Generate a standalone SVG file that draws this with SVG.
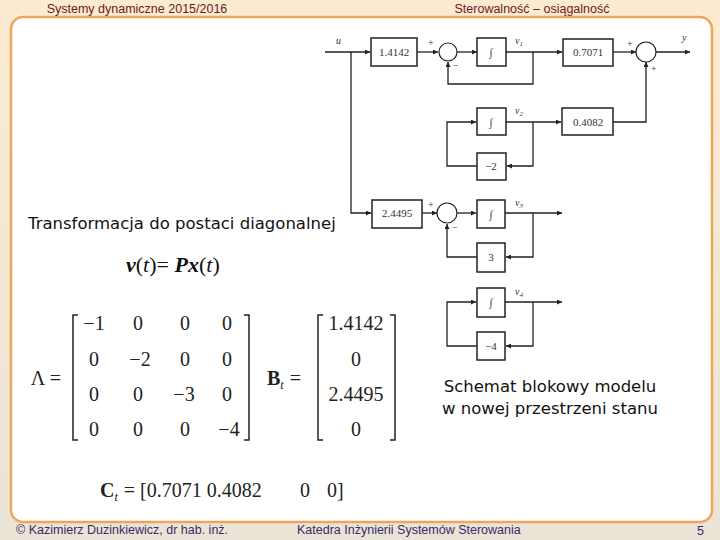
<svg xmlns="http://www.w3.org/2000/svg" width="720" height="540" viewBox="0 0 720 540">
<defs>
<linearGradient id="bg" x1="0" y1="0" x2="0" y2="1"><stop offset="0" stop-color="#fcebd2"/><stop offset="1" stop-color="#e9e4d6"/></linearGradient>
<marker id="a" viewBox="0 0 10 10" refX="10" refY="5" markerWidth="7" markerHeight="5" orient="auto" markerUnits="userSpaceOnUse"><path d="M0,0L10,5L0,10z" fill="#222"/></marker>
</defs>
<style>
.hd{font-family:"Liberation Sans",sans-serif;font-size:12.5px;fill:#6b1a1a}
.ft{font-family:"Liberation Sans",sans-serif;font-size:12.5px;fill:#3a2a6a}
.bx{fill:#fff;stroke:#222;stroke-width:1.5}
.c{fill:#fff;stroke:#222;stroke-width:1.2}
.ln{fill:none;stroke:#222;stroke-width:1.3}
.bt{font-family:"Liberation Serif",serif;font-size:11px;fill:#333;text-anchor:middle}
.lb{font-family:"Liberation Serif",serif;font-size:10px;font-style:italic;fill:#333}
.sg{font-family:"Liberation Serif",serif;font-size:10px;fill:#333}
.m{font-family:"Liberation Serif",serif;font-size:20px;fill:#222;text-anchor:middle}
.tx{font-family:"DejaVu Sans",sans-serif;font-size:16.5px;fill:#111}
.br{fill:none;stroke:#222;stroke-width:1.5}
</style>
<rect width="720" height="540" fill="url(#bg)"/>
<rect x="11" y="17" width="701" height="505" rx="12" fill="#fff" stroke="#f0a65a" stroke-width="2.5"/>
<text class="hd" x="137" y="13" text-anchor="middle">Systemy dynamiczne 2015/2016</text>
<text class="hd" x="532" y="13" text-anchor="middle">Sterowalność – osiągalność</text>
<text class="ft" x="16" y="534">© Kazimierz Duzinkiewicz, dr hab. inż.</text>
<text class="ft" x="297" y="534">Katedra Inżynierii Systemów Sterowania</text>
<text class="ft" x="697" y="535">5</text>

<g id="connectors">
<path class="ln" d="M325,52H370" marker-end="url(#a)"/>
<path class="ln" d="M351,52V213H371" marker-end="url(#a)"/>
<path class="ln" d="M417,52H438" marker-end="url(#a)"/>
<path class="ln" d="M457,52H477" marker-end="url(#a)"/>
<path class="ln" d="M506,52H562" marker-end="url(#a)"/>
<path class="ln" d="M533,52V84H448V62" marker-end="url(#a)"/>
<path class="ln" d="M613,52H636" marker-end="url(#a)"/>
<path class="ln" d="M656,52H690" marker-end="url(#a)"/>
<path class="ln" d="M506,122H561" marker-end="url(#a)"/>
<path class="ln" d="M613,122H646V62" marker-end="url(#a)"/>
<path class="ln" d="M533,122V166H507" marker-end="url(#a)"/>
<path class="ln" d="M477,166H447V122H476" marker-end="url(#a)"/>
<path class="ln" d="M422,213H437" marker-end="url(#a)"/>
<path class="ln" d="M457,213H476" marker-end="url(#a)"/>
<path class="ln" d="M505,213H562" marker-end="url(#a)"/>
<path class="ln" d="M533,213V257H506" marker-end="url(#a)"/>
<path class="ln" d="M477,257H447V224" marker-end="url(#a)"/>
<path class="ln" d="M505,302H562" marker-end="url(#a)"/>
<path class="ln" d="M533,302V346H506" marker-end="url(#a)"/>
<path class="ln" d="M477,346H447V302H476" marker-end="url(#a)"/>
</g>
<g id="labels">
<text class="lb" x="336" y="44">u</text>
<text class="lb" x="682" y="41">y</text>
<text class="lb" x="515" y="44">v<tspan font-size="7" dy="2">1</tspan></text>
<text class="lb" x="515" y="114">v<tspan font-size="7" dy="2">2</tspan></text>
<text class="lb" x="515" y="206">v<tspan font-size="7" dy="2">3</tspan></text>
<text class="lb" x="515" y="295">v<tspan font-size="7" dy="2">4</tspan></text>
<text class="sg" x="428" y="46">+</text><text class="sg" x="453" y="69">−</text>
<text class="sg" x="627" y="47">+</text><text class="sg" x="651" y="72">+</text>
<text class="sg" x="428" y="208">+</text><text class="sg" x="452" y="231">−</text>
</g>
<g id="n1"><rect class="bx" x="371" y="38" width="46" height="28"/><text class="bt" x="394" y="56">1.4142</text></g>
<g id="s1"><circle class="c" cx="448" cy="52" r="9"/></g>
<g id="i1"><rect class="bx" x="477" y="38" width="29" height="28"/><text class="bt" x="491" y="56">∫</text></g>
<g id="n2"><rect class="bx" x="563" y="39" width="50" height="27"/><text class="bt" x="588" y="56">0.7071</text></g>
<g id="s2"><circle class="c" cx="646" cy="52" r="10"/></g>
<g id="i2"><rect class="bx" x="477" y="108" width="29" height="27"/><text class="bt" x="491" y="126">∫</text></g>
<g id="n3"><rect class="bx" x="562" y="108" width="51" height="27"/><text class="bt" x="588" y="126">0.4082</text></g>
<g id="g2"><rect class="bx" x="477" y="153" width="29" height="27"/><text class="bt" x="491" y="170">−2</text></g>
<g id="n4"><rect class="bx" x="372" y="200" width="50" height="28"/><text class="bt" x="397" y="217">2.4495</text></g>
<g id="s3"><circle class="c" cx="447" cy="213" r="10"/></g>
<g id="i3"><rect class="bx" x="477" y="200" width="28" height="28"/><text class="bt" x="491" y="218">∫</text></g>
<g id="g3"><rect class="bx" x="477" y="243" width="28" height="29"/><text class="bt" x="491" y="261">3</text></g>
<g id="i4"><rect class="bx" x="477" y="288" width="28" height="29"/><text class="bt" x="491" y="306">∫</text></g>
<g id="g4"><rect class="bx" x="477" y="332" width="28" height="28"/><text class="bt" x="491" y="350">−4</text></g>

<text class="tx" x="28" y="229">Transformacja do postaci diagonalnej</text>
<text x="126" y="272" font-family="Liberation Serif,serif" font-size="22" font-weight="bold" font-style="italic" fill="#111">v<tspan font-weight="normal" font-style="normal">(</tspan><tspan font-weight="normal">t</tspan><tspan font-weight="normal" font-style="normal">)</tspan><tspan font-weight="normal" font-style="normal">=</tspan> Px<tspan font-weight="normal" font-style="normal">(</tspan><tspan font-weight="normal">t</tspan><tspan font-weight="normal" font-style="normal">)</tspan></text>

<text class="m" x="46" y="385">Λ =</text>
<path class="br" d="M78,315H73V440H78M244,315H249V440H244"/>
<g class="m">
<text class="m" x="94" y="330">−1</text><text class="m" x="138" y="330">0</text><text class="m" x="185" y="330">0</text><text class="m" x="227" y="330">0</text>
<text class="m" x="94" y="366">0</text><text class="m" x="140" y="366">−2</text><text class="m" x="185" y="366">0</text><text class="m" x="227" y="366">0</text>
<text class="m" x="94" y="401">0</text><text class="m" x="138" y="401">0</text><text class="m" x="184" y="401">−3</text><text class="m" x="227" y="401">0</text>
<text class="m" x="94" y="436">0</text><text class="m" x="138" y="436">0</text><text class="m" x="185" y="436">0</text><text class="m" x="229" y="436">−4</text>
</g>
<text x="267" y="385" font-family="Liberation Serif,serif" font-size="20" font-weight="bold" fill="#222">B<tspan font-size="12" font-weight="normal" font-style="italic" dy="4">t</tspan><tspan dy="-4" font-weight="normal" dx="6">=</tspan></text>
<path class="br" d="M323,315H318V440H323M390,315H395V440H390"/>
<text class="m" x="356" y="330">1.4142</text><text class="m" x="356" y="366">0</text><text class="m" x="356" y="401">2.4495</text><text class="m" x="356" y="436">0</text>
<text x="100" y="497" font-family="Liberation Serif,serif" font-size="20" font-weight="bold" fill="#222">C<tspan font-size="12" font-weight="normal" font-style="italic" dy="4">t</tspan><tspan dy="-4" font-weight="normal" dx="6">= [0.7071 0.4082</tspan></text>
<text x="300" y="497" font-family="Liberation Serif,serif" font-size="20" fill="#222">0</text>
<text x="327" y="497" font-family="Liberation Serif,serif" font-size="20" fill="#222">0]</text>

<text class="tx" x="550" y="392" text-anchor="middle">Schemat blokowy modelu</text>
<text class="tx" x="550" y="414" text-anchor="middle">w nowej przestrzeni stanu</text>
</svg>
